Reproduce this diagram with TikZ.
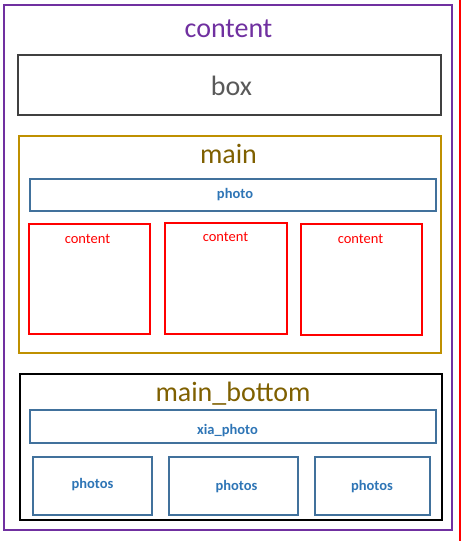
\documentclass[tikz,border=0pt]{standalone}
\usepackage{fontspec}
\setmainfont{Carlito}
\definecolor{cpurple}{HTML}{7030A0}
\definecolor{cgray}{HTML}{404040}
\definecolor{cgraytxt}{HTML}{595959}
\definecolor{cgold}{HTML}{BF9000}
\definecolor{cgoldtxt}{HTML}{7F6000}
\definecolor{cblue}{HTML}{41719C}
\definecolor{cbluetxt}{HTML}{2E75B6}
\definecolor{cred}{HTML}{FF0000}
\begin{document}
\begin{tikzpicture}[x=1pt,y=-1pt,
  frame/.style={draw, rectangle, inner sep=0pt, outer sep=0pt},
  bigtitle/.style={anchor=base, inner sep=0pt, font=\fontsize{28}{30}\selectfont},
  smalltxt/.style={anchor=base, inner sep=0pt, font=\fontsize{14.5}{16}\selectfont},
  boldtxt/.style={anchor=base, inner sep=0pt, text=cbluetxt, font=\fontsize{14.5}{16}\selectfont\bfseries},
  bluebar/.style={frame, draw=cblue, line width=1.6pt},
  redbox/.style={frame, draw=cred, line width=1.5pt},
  photosbox/.style={frame, draw=cblue, line width=1.3pt}]
\useasboundingbox[fill=white] (0,0) rectangle (461,541);
\coordinate (rt) at (460,0);
\coordinate (rb) at (460,541);
\draw[cred, line width=1.5pt] (rt) -- (rb);
% outer content
\node[frame, draw=cpurple, line width=2.6pt, minimum width=448pt, minimum height=525pt] (outer) at (228,267.5) {};
\node[bigtitle, text=cpurple] (outert) at (228.5,37) {content};
% box
\node[frame, draw=cgray, line width=2.6pt, minimum width=423pt, minimum height=60pt] (box) at (229.5,85) {};
\node[bigtitle, text=cgraytxt] (boxt) at (231.5,95) {box};
% main
\node[frame, draw=cgold, line width=2.6pt, minimum width=422pt, minimum height=217pt] (main) at (230,244.5) {};
\node[bigtitle, text=cgoldtxt] (maint) at (228.5,163) {main};
\node[bluebar, minimum width=406pt, minimum height=32pt] (photo) at (233,195) {};
\node[boldtxt] (photot) at (235,198) {photo};
\node[redbox, minimum width=121pt, minimum height=110pt] (c1) at (89.5,279) {};
\node[redbox, minimum width=122pt, minimum height=111pt] (c2) at (226,278.5) {};
\node[redbox, minimum width=121pt, minimum height=111pt] (c3) at (361.5,279.5) {};
\node[smalltxt, text=cred] (c1t) at (87.5,243.5) {content};
\node[smalltxt, text=cred] (c2t) at (225.5,241.5) {content};
\node[smalltxt, text=cred] (c3t) at (360.5,243.5) {content};
% main_bottom
\node[frame, draw=black, line width=1.3pt, minimum width=422pt, minimum height=146pt] (mb) at (231,447) {};
\node[bigtitle, text=cgoldtxt] (mbt) at (233,401) {main\_bottom};
\node[bluebar, minimum width=406pt, minimum height=33pt] (xia) at (233,426.5) {};
\node[boldtxt] (xiat) at (227.5,434) {xia\_photo};
\node[photosbox, minimum width=119pt, minimum height=58pt] (p1) at (92.5,486) {};
\node[photosbox, minimum width=129pt, minimum height=58pt] (p2) at (233.5,486) {};
\node[photosbox, minimum width=115pt, minimum height=58pt] (p3) at (372.5,486) {};
\node[boldtxt] (p1t) at (92.5,488) {photos};
\node[boldtxt] (p2t) at (236.5,490) {photos};
\node[boldtxt] (p3t) at (372,490) {photos};
\end{tikzpicture}
\end{document}
